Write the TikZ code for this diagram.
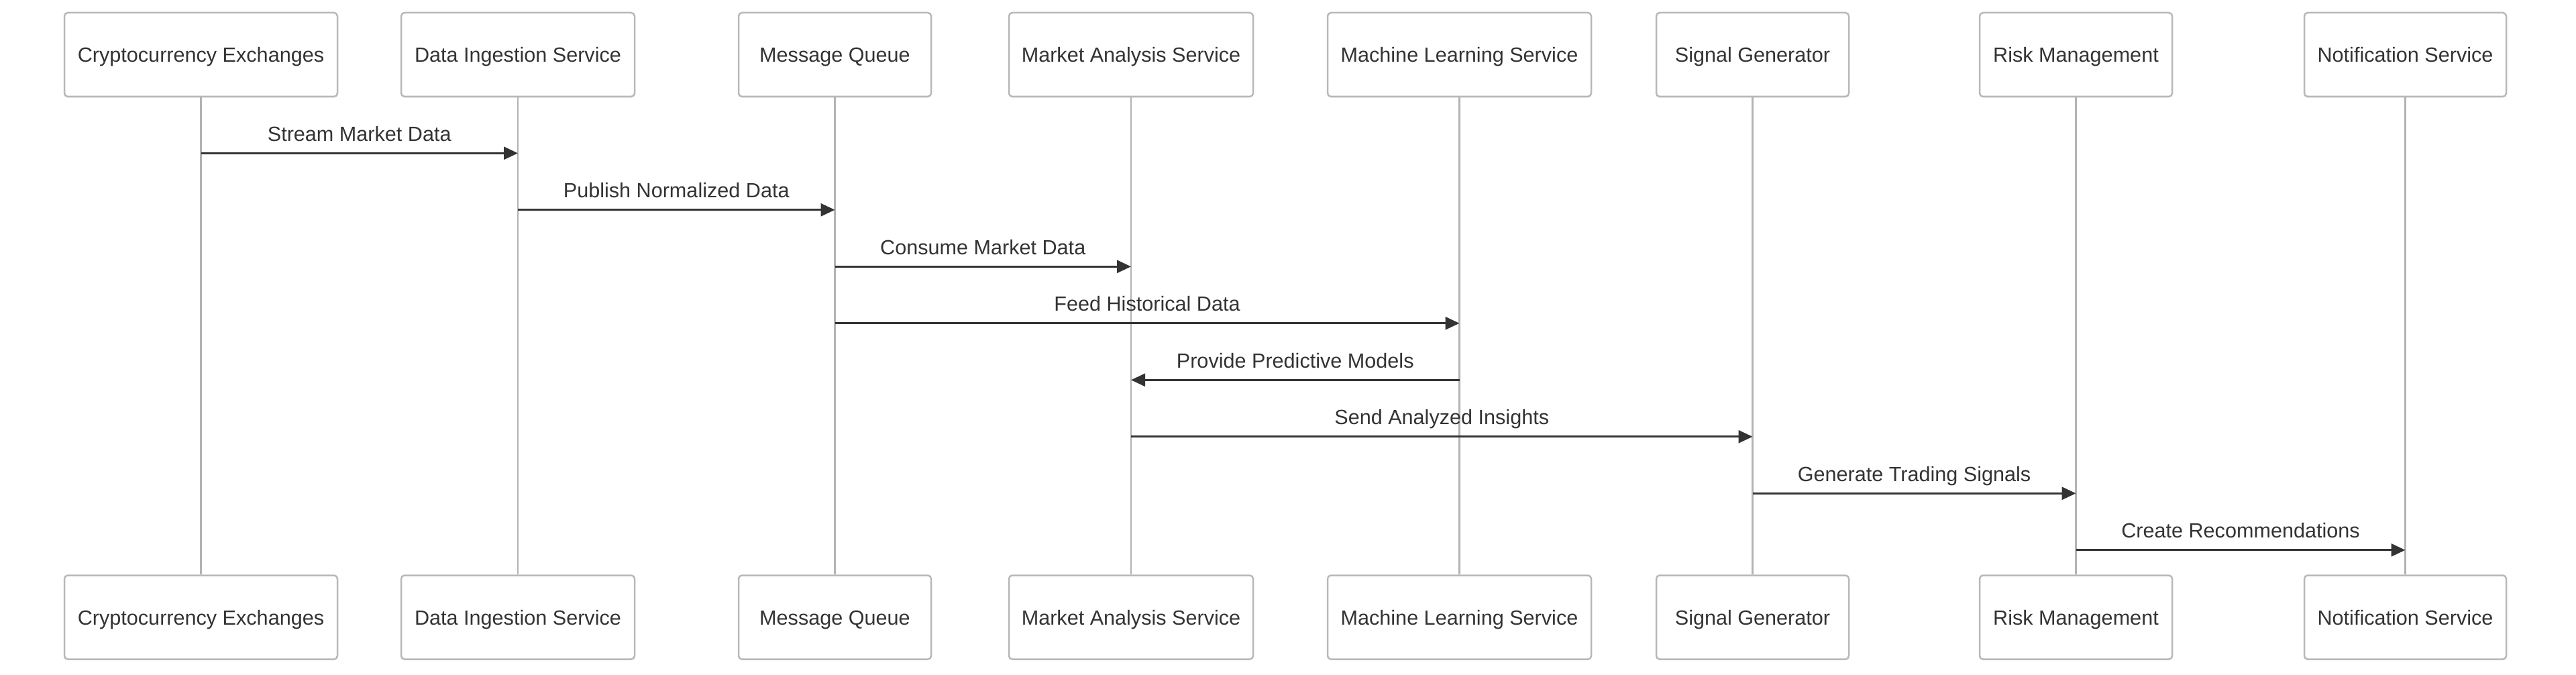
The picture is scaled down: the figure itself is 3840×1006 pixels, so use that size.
\documentclass[tikz,border=0pt]{standalone}
\usepackage{fontspec}
\setmainfont{Liberation Sans}
\usetikzlibrary{arrows.meta}
\definecolor{boxline}{HTML}{B8B8B8}
\definecolor{lifecol}{HTML}{B3B3B3}
\definecolor{ink}{HTML}{333333}
\begin{document}
\begin{tikzpicture}[x=1pt,y=-1pt,
  actor/.style={draw=boxline, line width=2.5pt, fill=white, rounded corners=5pt,
    minimum height=125pt, inner sep=0pt, text height=22pt, text depth=0pt,
    font=\fontsize{30.6}{36}\selectfont, text=ink},
  life/.style={draw=lifecol, line width=2.7pt},
  msg/.style={draw=ink, line width=2.8pt, -{Triangle[length=21pt,width=19pt]}},
  lbl/.style={font=\fontsize{30.6}{36}\selectfont, text=ink, anchor=base, yshift=18pt, inner sep=0pt}]
\useasboundingbox (0,0) rectangle (3840,1006);
% top actors
\node[actor, minimum width=407pt] (ce)  at (299.5,81.5)  {Cryptocurrency Exchanges};
\node[actor, minimum width=348pt] (dis) at (772,81.5)    {Data Ingestion Service};
\node[actor, minimum width=287pt] (mq)  at (1244.5,81.5) {Message Queue};
\node[actor, minimum width=364pt] (mas) at (1686,81.5)   {Market Analysis Service};
\node[actor, minimum width=393pt] (mls) at (2175.5,81.5) {Machine Learning Service};
\node[actor, minimum width=287pt] (sg)  at (2612.5,81.5) {Signal Generator};
\node[actor, minimum width=287pt] (rm)  at (3094.5,81.5) {Risk Management};
\node[actor, minimum width=301pt] (ns)  at (3585.5,81.5) {Notification Service};
% bottom actors
\node[actor, minimum width=407pt] (ceB)  at (299.5,920)  {Cryptocurrency Exchanges};
\node[actor, minimum width=348pt] (disB) at (772,920)    {Data Ingestion Service};
\node[actor, minimum width=287pt] (mqB)  at (1244.5,920) {Message Queue};
\node[actor, minimum width=364pt] (masB) at (1686,920)   {Market Analysis Service};
\node[actor, minimum width=393pt] (mlsB) at (2175.5,920) {Machine Learning Service};
\node[actor, minimum width=287pt] (sgB)  at (2612.5,920) {Signal Generator};
\node[actor, minimum width=287pt] (rmB)  at (3094.5,920) {Risk Management};
\node[actor, minimum width=301pt] (nsB)  at (3585.5,920) {Notification Service};
% lifelines
\foreach \a in {ce,dis,mq,mas,mls,sg,rm,ns}
  \draw[life] (\a) -- (\a B);
% messages
\draw[msg] (ce |- 0,228.3) -- node[lbl] {Stream Market Data} (dis |- 0,228.3);
\draw[msg] (dis |- 0,312.8) -- node[lbl] {Publish Normalized Data} (mq |- 0,312.8);
\draw[msg] (mq |- 0,397.3) -- node[lbl] {Consume Market Data} (mas |- 0,397.3);
\draw[msg] (mq |- 0,481.8) -- node[lbl] {Feed Historical Data} (mls |- 0,481.8);
\draw[msg] (mls |- 0,566.3) -- node[lbl] {Provide Predictive Models} (mas |- 0,566.3);
\draw[msg] (mas |- 0,650.8) -- node[lbl] {Send Analyzed Insights} (sg |- 0,650.8);
\draw[msg] (sg |- 0,735.3) -- node[lbl] {Generate Trading Signals} (rm |- 0,735.3);
\draw[msg] (rm |- 0,819.8) -- node[lbl] {Create Recommendations} (ns |- 0,819.8);
\end{tikzpicture}
\end{document}
